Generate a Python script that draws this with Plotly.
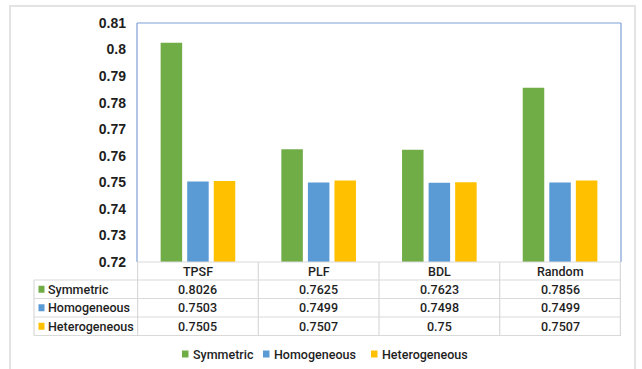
import plotly.graph_objects as go

# Data
categories = ["TPSF", "PLF", "BDL", "Random"]
series_names = ["Symmetric", "Homogeneous", "Heterogeneous"]
symmetric = [0.8026, 0.7625, 0.7623, 0.7856]
homogeneous = [0.7503, 0.7499, 0.7498, 0.7499]
heterogeneous = [0.7505, 0.7507, 0.75, 0.7507]
y_ticks = [0.72, 0.73, 0.74, 0.75, 0.76, 0.77, 0.78, 0.79, 0.8, 0.81]

series_values = [symmetric, homogeneous, heterogeneous]
colors = ["#70AD47", "#5B9BD5", "#FFC000"]

# Canvas geometry (pixels)
W, H = 642, 369
PL, PR, PT, PB = 137, 621, 23, 262

FONT = "Roboto"
TICK_FONT = "Liberation Sans"
TXT = "#1E1E1E"
GRID = "#D9D9D9"


def px(x):
    return (x - PL) / (PR - PL)


def py(y):
    return (PB - y) / (PB - PT)


def label(x, y, text, xref="paper", xanchor="center", size=12.5, weight=500):
    return dict(x=x, y=y, xref=xref, yref="paper", text=text, showarrow=False,
                xanchor=xanchor, yanchor="middle",
                font=dict(family=FONT, size=size, color=TXT, weight=weight))


fig = go.Figure()
for name, vals, col in zip(series_names, series_values, colors):
    fig.add_trace(go.Bar(x=categories, y=vals, name=name, marker_color=col,
                         marker_line_width=0, showlegend=False))

shapes = []
annotations = []

# outer chart frame
shapes.append(dict(type="rect", xref="paper", yref="paper",
                   x0=px(10), x1=px(635), y0=py(372), y1=py(6),
                   line=dict(color="#E3E3E3", width=2), layer="below"))

# plot border (left, top, right)
for x0, y0, x1, y1 in [(PL, PB, PL, PT), (PL, PT, PR, PT), (PR, PT, PR, PB)]:
    shapes.append(dict(type="line", xref="paper", yref="paper",
                       x0=px(x0), x1=px(x1), y0=py(y0), y1=py(y1),
                       line=dict(color="#7F9FD8", width=1.2)))

# data table grid
row_edges = [262, 280, 298.5, 317, 335.5]
n = len(categories)
shapes.append(dict(type="line", xref="paper", yref="paper", x0=0, x1=1,
                   y0=py(row_edges[0]), y1=py(row_edges[0]),
                   line=dict(color=GRID, width=1.2)))
for ye in row_edges[1:]:
    shapes.append(dict(type="line", xref="paper", yref="paper", x0=px(34), x1=1,
                       y0=py(ye), y1=py(ye), line=dict(color=GRID, width=1.2)))
shapes.append(dict(type="line", xref="paper", yref="paper", x0=px(34), x1=px(34),
                   y0=py(row_edges[1]), y1=py(row_edges[-1]),
                   line=dict(color=GRID, width=1.2)))
for k in range(n + 1):
    shapes.append(dict(type="line", xref="x", yref="paper", x0=k - 0.5, x1=k - 0.5,
                       y0=py(row_edges[0]), y1=py(row_edges[-1]),
                       line=dict(color=GRID, width=1.2)))

# header row with category names
hdr_y = py((row_edges[0] + row_edges[1]) / 2)
for c in categories:
    annotations.append(label(c, hdr_y, c, xref="x"))

# value rows
for r, (name, vals, col) in enumerate(zip(series_names, series_values, colors)):
    yc = (row_edges[r + 1] + row_edges[r + 2]) / 2
    shapes.append(dict(type="rect", xref="paper", yref="paper",
                       x0=px(38.5), x1=px(44.5), y0=py(yc + 3.5), y1=py(yc - 3.5),
                       fillcolor=col, line=dict(width=0)))
    annotations.append(label(px(46), py(yc), name, xanchor="left"))
    for c, v in zip(categories, vals):
        annotations.append(label(c, py(yc), f"{v:g}", xref="x"))

# legend below the table
legend_x = [182, 263, 371]
legend_y = 354
for name, col, lx in zip(series_names, colors, legend_x):
    shapes.append(dict(type="rect", xref="paper", yref="paper",
                       x0=px(lx), x1=px(lx + 6.5), y0=py(legend_y + 3.5), y1=py(legend_y - 3.5),
                       fillcolor=col, line=dict(width=0)))
    annotations.append(label(px(lx + 9), py(legend_y), name, xanchor="left"))

fig.update_layout(
    width=W, height=H,
    margin=dict(l=PL, r=W - PR, t=PT, b=H - PB, pad=0),
    paper_bgcolor="white", plot_bgcolor="white",
    barmode="group", bargap=0.34, bargroupgap=0.19,
    shapes=shapes, annotations=annotations,
    xaxis=dict(showticklabels=False, showgrid=False, zeroline=False, showline=False, ticks=""),
    yaxis=dict(range=[0.72, 0.81], tickvals=y_ticks, tickformat="~g", showgrid=False,
               zeroline=False, showline=False, ticks="", ticklabelstandoff=10,
               tickfont=dict(family=TICK_FONT, size=14, color=TXT, weight="bold")),
)

fig.write_html("out.html")
